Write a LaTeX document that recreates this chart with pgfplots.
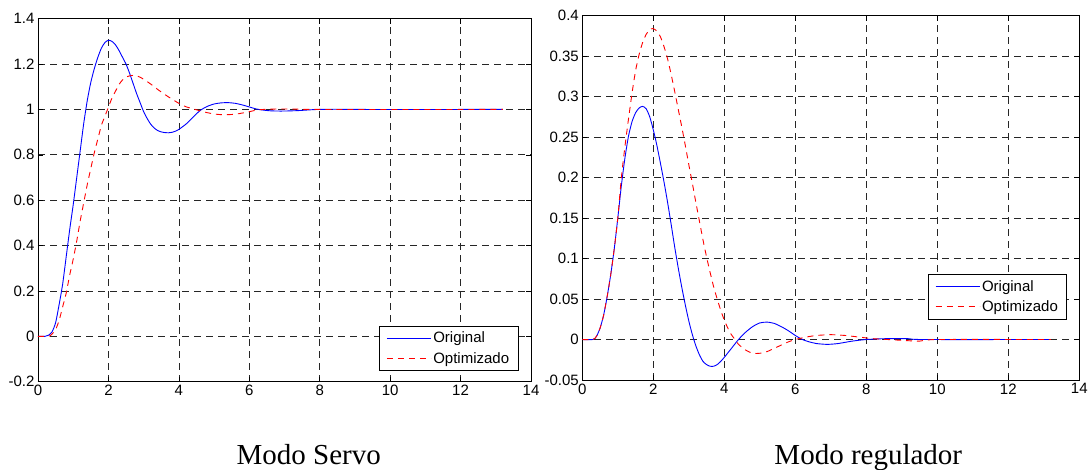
\documentclass[border=0pt]{standalone}
\usepackage{pgfplots}
\pgfplotsset{compat=1.18}
\usepackage{fontspec}
\setmainfont{Liberation Sans}
\newfontfamily\titlefont{Liberation Serif}

\pgfplotstableread{
t v
0 0
0.2 0
0.3 0.005
0.4 0.02
0.5 0.06
0.6 0.14
0.7 0.23
0.8 0.35
0.9 0.47
1.0 0.58
1.1 0.70
1.2 0.82
1.3 0.94
1.4 1.04
1.5 1.12
1.6 1.18
1.7 1.23
1.8 1.27
1.9 1.295
2.0 1.305
2.1 1.30
2.2 1.285
2.3 1.26
2.4 1.23
2.5 1.20
2.6 1.16
2.7 1.115
2.8 1.07
2.9 1.03
3.0 0.99
3.1 0.96
3.2 0.935
3.3 0.918
3.4 0.907
3.5 0.901
3.6 0.898
3.7 0.897
3.8 0.899
3.9 0.904
4.0 0.912
4.2 0.935
4.4 0.965
4.6 0.995
4.8 1.013
5.0 1.024
5.2 1.029
5.4 1.03
5.6 1.027
5.8 1.02
6.0 1.011
6.2 1.002
6.4 0.997
6.6 0.994
6.8 0.993
7.0 0.993
7.4 0.995
7.8 0.999
8.0 1.0
8.5 1.001
9 1.0
13.2 1.0
}\servoorig

\pgfplotstableread{
t v
0 0
0.3 0
0.4 0.01
0.5 0.03
0.6 0.07
0.7 0.13
0.8 0.19
0.9 0.27
1.0 0.34
1.1 0.42
1.2 0.51
1.3 0.59
1.4 0.67
1.5 0.74
1.6 0.81
1.7 0.87
1.8 0.93
1.9 0.97
2.0 1.01
2.1 1.05
2.2 1.08
2.3 1.11
2.4 1.13
2.5 1.142
2.6 1.148
2.7 1.15
2.8 1.148
2.9 1.142
3.0 1.133
3.2 1.112
3.4 1.088
3.6 1.066
3.8 1.046
4.0 1.027
4.2 1.012
4.4 1.003
4.6 0.994
4.8 0.986
5.0 0.98
5.2 0.977
5.4 0.977
5.6 0.979
5.8 0.984
6.0 0.99
6.2 0.997
6.4 1.0
6.8 1.002
7.2 1.002
8 1.0
13.2 1.0
}\servoopt

\pgfplotstableread{
t v
0 0
0.3 0
0.4 0.004
0.5 0.014
0.6 0.03
0.7 0.053
0.8 0.08
0.9 0.112
1.0 0.15
1.1 0.19
1.2 0.224
1.3 0.251
1.4 0.269
1.5 0.28
1.6 0.286
1.7 0.288
1.8 0.285
1.9 0.275
2.0 0.259
2.1 0.240
2.2 0.218
2.3 0.195
2.4 0.170
2.5 0.143
2.6 0.115
2.7 0.089
2.8 0.065
2.9 0.043
3.0 0.023
3.1 0.006
3.2 -0.008
3.3 -0.019
3.4 -0.027
3.5 -0.031
3.6 -0.033
3.7 -0.033
3.8 -0.031
3.9 -0.027
4.0 -0.022
4.2 -0.011
4.4 0.0
4.6 0.009
4.8 0.016
5.0 0.0205
5.2 0.0215
5.4 0.02
5.6 0.016
5.8 0.011
6.0 0.005
6.2 0.0
6.4 -0.003
6.6 -0.005
6.9 -0.006
7.2 -0.005
7.6 -0.002
8.0 0.0
8.5 0.001
9.2 0.001
9.6 0.0
13.2 0
}\regorig

\pgfplotstableread{
t v
0 0
0.3 0
0.4 0.004
0.5 0.014
0.6 0.03
0.7 0.053
0.8 0.08
0.9 0.112
1.0 0.15
1.1 0.200
1.2 0.238
1.3 0.272
1.4 0.304
1.5 0.332
1.6 0.352
1.7 0.367
1.8 0.377
1.9 0.383
2.0 0.384
2.1 0.381
2.2 0.374
2.3 0.362
2.4 0.347
2.5 0.328
2.6 0.307
2.7 0.285
2.8 0.263
2.9 0.240
3.0 0.216
3.1 0.193
3.2 0.169
3.3 0.146
3.4 0.123
3.5 0.102
3.6 0.083
3.7 0.065
3.8 0.05
3.9 0.036
4.0 0.024
4.1 0.014
4.2 0.006
4.3 0.0
4.4 -0.006
4.6 -0.013
4.8 -0.017
5.0 -0.017
5.2 -0.015
5.4 -0.011
5.6 -0.007
5.8 -0.003
6.0 0.0
6.3 0.003
6.6 0.005
7.0 0.006
7.4 0.005
7.8 0.003
8.2 0.001
8.6 0.0
9.0 -0.001
9.5 -0.002
10 0
13.2 0
}\regopt

\pgfplotsset{
  matlab/.style={
    scale only axis,
    anchor=south west,
    xmin=0, xmax=14,
    xtick={0,2,4,6,8,10,12,14},
    tick align=inside,
    major tick length=5pt,
    axis line style={black, line width=0.8pt},
    every tick/.style={black, line width=0.6pt},
    grid=major,
    major grid style={black!85, line width=0.7pt, dash pattern=on 7pt off 5pt},
    /pgf/number format/assume math mode=true,
    tick label style={font=\fontsize{15}{17}\selectfont},
    xticklabel style={font=\fontsize{15}{17}\selectfont},
    yticklabel style={font=\fontsize{15}{17}\selectfont, /pgf/number format/fixed},
    legend cell align=left,
    legend style={draw=black, line width=0.8pt, fill=white,
      font=\fontsize{15}{17}\selectfont, anchor=north west,
      inner xsep=7pt, inner ysep=4pt, row sep=4pt},
    legend image code/.code={\draw[#1] (0pt,0pt) -- (44pt,0pt);},
  },
  orig/.style={draw=blue, color=blue, line width=0.9pt, smooth, tension=0.4},
  opt/.style={draw=red, color=red, line width=0.9pt, dash pattern=on 6pt off 5pt, smooth, tension=0.4},
}

\begin{document}
\begin{tikzpicture}
\useasboundingbox (0pt,0pt) rectangle (1092pt,470pt);
\begin{axis}[matlab,
  at={(38pt,88.3pt)}, width=493pt, height=363pt,
  ymin=-0.2, ymax=1.4,
  ytick={-0.2,0,0.2,0.4,0.6,0.8,1,1.2,1.4},
  legend style={at={(0.6917,0.1543)}},
]
\addplot[orig] table[x=t,y=v] {\servoorig};
\addlegendentry{Original}
\addplot[opt] table[x=t,y=v] {\servoopt};
\addlegendentry{Optimizado}
\end{axis}
\begin{axis}[matlab,
  at={(582.3pt,90pt)}, width=497pt, height=364.3pt,
  ymin=-0.05, ymax=0.4,
  ytick={-0.05,0,0.05,0.1,0.15,0.2,0.25,0.3,0.35,0.4},
  legend style={at={(0.695,0.291)}},
]
\addplot[orig] table[x=t,y=v] {\regorig};
\addlegendentry{Original}
\addplot[opt] table[x=t,y=v] {\regopt};
\addlegendentry{Optimizado}
\end{axis}
\node[anchor=base, inner sep=0pt, font=\titlefont\fontsize{29}{32}\selectfont] at (308.8pt,5.7pt) {Modo Servo};
\node[anchor=base, inner sep=0pt, font=\titlefont\fontsize{29}{32}\selectfont] at (868.3pt,5.7pt) {Modo regulador};
\end{tikzpicture}
\end{document}
